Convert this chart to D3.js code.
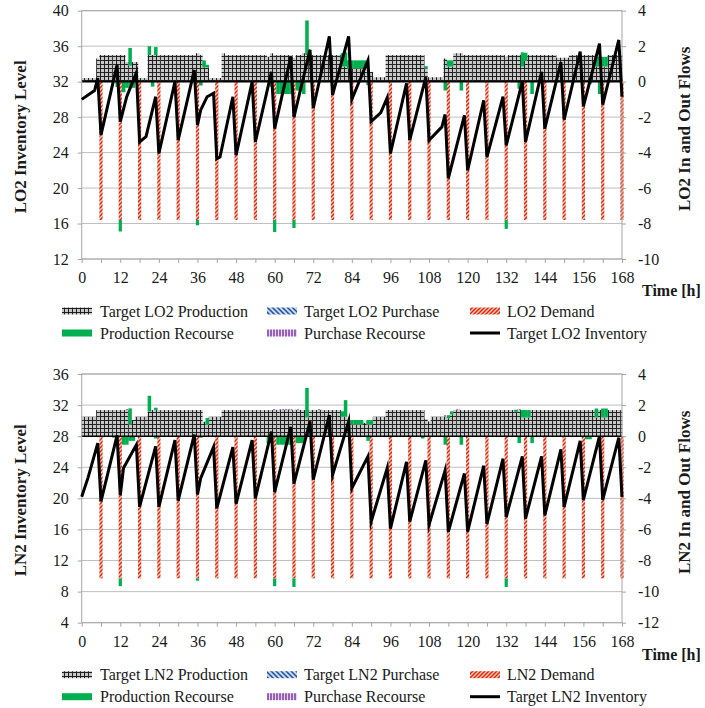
<!DOCTYPE html>
<html lang="en">
<head>
<meta charset="utf-8">
<title>LO2 and LN2 inventory and flows</title>
<script src="https://cdn.jsdelivr.net/npm/d3@7"></script>
<style>
  body { margin: 0; background: #fff; }
  svg text { font-family: "Liberation Serif", "DejaVu Serif", serif; fill: #1a1a1a; }
</style>
</head>
<body>
<script>
// ---- data ----
var demandHours = [6,12,18,24,30,36,42,48,54,60,66,72,78,84,90,96,102,108,114,120,126,132,138,144,150,156,162,168];
var xTickHours = [0,6,12,18,24,30,36,42,48,54,60,66,72,78,84,90,96,102,108,114,120,126,132,138,144,150,156,162,168];
var xLabels = [0,12,24,36,48,60,72,84,96,108,120,132,144,156,168];

var lo2LeftTicks = [12,16,20,24,28,32,36,40];
var lo2RightTicks = [-10,-8,-6,-4,-2,0,2,4];
var ln2LeftTicks = [4,8,12,16,20,24,28,32,36];
var ln2RightTicks = [-12,-10,-8,-6,-4,-2,0,2,4];

// hourly target production, index = hour 0..168
var lo2Production = [
  0.2,0.2,0.2,0.2,0.2,1.3,1.5,1.5,1.5,1.5,
  1.5,1.5,1.5,1.5,1.1,0.9,1.1,1.1,0.2,0.2,
  0.2,1.5,1.5,1.5,1.5,1.5,1.5,1.5,1.5,1.5,
  1.5,1.5,1.5,1.5,1.5,1.5,1.6,1.5,0.8,0.8,
  0.2,0.2,0.2,0.2,1.6,1.5,1.5,1.5,1.5,1.5,
  1.5,1.5,1.5,1.5,1.5,1.5,1.5,1.5,1.4,1.6,
  1.5,1.5,1.5,1.5,1.5,1.5,1.35,1.5,1.5,1.6,
  1.5,1.5,1.5,1.5,1.5,1.5,1.5,1.5,1.5,1.5,
  1.5,0.85,0.85,0.75,0.75,0.75,0.75,0.75,0.75,0.55,
  0.55,0.25,0.25,0.25,0.25,1.5,1.5,1.5,1.5,1.5,
  1.5,1.5,1.5,1.5,1.5,1.5,1.5,0.75,0.25,0.25,
  0.25,0.25,0.25,1.3,0.85,0.85,1.6,1.6,1.6,1.5,
  1.5,1.5,1.5,1.5,1.5,1.5,1.5,1.5,1.5,1.5,
  1.5,1.5,1.4,1.5,1.5,1.5,1.5,0.85,1.2,1.5,
  1.5,1.5,1.5,1.5,1.5,1.5,1.5,1.5,1.35,1.35,
  1.35,1.35,1.5,1.5,1.5,1.5,1.5,1.5,1.5,1.5,
  0.85,0.85,0.85,0.85,1.5,1.5,1.5,1.5,1.5
];
var lo2RecourseUp = [[15,1.0],[21,0.5],[23,0.45],[38,0.4],[39,0.15],[70,1.95],[81,0.75],[82,0.8],
  [83,0.45],[84,0.45],[85,0.45],[86,0.45],[87,0.45],[88,0.45],[107,0.12],[114,0.35],[115,0.35],
  [137,0.8],[138,0.43],[160,0.55],[161,0.55],[162,0.55],[163,0.55]];
var lo2RecourseDown = [[11,-0.3],[12,-0.65],[13,-0.6],[14,-0.35],[15,-0.35],[16,-0.35],[22,-0.28],
  [36,-0.3],[37,-0.22],[59,-0.3],[60,-0.68],[61,-0.7],[62,-0.7],[63,-0.7],[64,-0.7],[65,-0.7],
  [66,-0.45],[67,-0.5],[68,-0.5],[69,-0.7],[89,-0.2],[113,-0.5],[118,-0.5],[132,-0.5],[136,-0.4],
  [140,-0.7],[158,-0.15],[161,-0.7]];
var lo2Demand = [-7.8,-7.8,-7.8,-7.8,-7.8,-7.8,-7.8,-7.8,-7.8,-7.8,-7.8,-7.8,-7.8,-7.8,
  -7.8,-7.8,-7.8,-7.8,-7.8,-7.8,-7.8,-7.8,-7.8,-7.8,-7.8,-7.8,-7.8,-7.8];
var lo2Inventory = [[0,30.0],[4,31.0],[5,32.4],[6,26.0],[11,33.9],[12,27.5],[14,30.3],[17,33.0],
  [18,25.2],[20,25.8],[23,30.3],[24,23.9],[29,32.0],[30,25.4],[35,33.3],[36,27.1],[37,28.8],
  [39,30.3],[41,30.7],[42,23.3],[43,23.5],[47,30.3],[48,23.7],[53,32.0],[54,25.2],[59,33.1],
  [60,26.7],[65,34.8],[66,28.0],[71,35.6],[72,29.0],[77,37.1],[78,30.5],[83,37.1],[84,30.0],
  [89,34.4],[90,27.5],[93,28.5],[95,30.2],[96,23.9],[101,31.8],[102,25.4],[107,32.5],[108,25.4],
  [112,26.9],[113,28.3],[114,21.1],[119,28.2],[120,22.0],[125,29.9],[126,23.5],[131,30.3],
  [132,24.8],[137,32.0],[138,25.2],[143,33.1],[144,26.7],[149,34.2],[150,27.7],[155,35.4],
  [156,29.2],[161,36.3],[162,29.4],[167,36.7],[168,30.3]];

var ln2Production = [
  1.25,1.25,1.25,1.25,1.25,1.68,1.68,1.68,1.68,1.68,
  1.68,1.68,1.68,1.68,1.68,0.76,1.04,1.25,1.25,1.25,
  1.25,1.58,1.68,1.68,1.68,1.68,1.68,1.68,1.68,1.68,
  1.68,1.68,1.68,1.68,1.68,1.68,1.68,1.68,0.93,0.72,
  1.25,1.25,1.25,1.25,1.68,1.68,1.68,1.68,1.68,1.68,
  1.68,1.68,1.68,1.68,1.68,1.68,1.68,1.68,1.68,1.68,
  1.68,1.68,1.68,1.68,1.68,1.68,1.68,1.68,1.68,1.68,
  1.2,1.68,1.68,1.68,1.68,1.68,1.68,1.68,1.68,1.68,
  1.68,1.25,1.25,0.76,0.76,0.76,0.76,0.76,0.85,0.76,
  0.76,1.25,1.25,1.25,1.25,1.68,1.68,1.68,1.68,1.68,
  1.68,1.68,1.68,1.68,1.68,1.68,1.68,1.1,0.95,1.25,
  1.25,1.25,1.25,1.25,1.15,1.4,1.68,1.68,1.68,1.68,
  1.68,1.68,1.68,1.68,1.68,1.68,1.68,1.68,1.68,1.68,
  1.68,1.68,1.68,1.68,1.68,1.55,1.68,1.2,1.2,1.2,
  1.68,1.68,1.68,1.68,1.68,1.68,1.68,1.68,1.68,1.68,
  1.68,1.68,1.68,1.68,1.68,1.68,1.68,1.68,1.68,1.68,
  1.2,1.68,1.2,1.2,1.68,1.68,1.68,1.68,1.68
];
var ln2RecourseUp = [[15,1.03],[21,1.02],[23,0.15],[39,0.45],[70,1.9],[81,0.35],[82,1.07],[83,0.28],
  [84,0.28],[85,0.28],[86,0.28],[87,0.28],[89,0.28],[90,0.28],[114,0.2],[115,0.2],[135,0.15],
  [137,0.48],[138,0.48],[139,0.48],[160,0.58],[162,0.58],[163,0.58]];
var ln2RecourseDown = [[10,-0.1],[11,-0.15],[12,-0.5],[13,-0.55],[14,-0.55],[15,-0.3],[16,-0.3],
  [23,-0.15],[36,-0.15],[37,-0.1],[58,-0.45],[59,-0.45],[60,-0.5],[61,-0.55],[62,-0.55],[63,-0.55],
  [64,-0.55],[65,-0.55],[66,-0.55],[67,-0.45],[68,-0.45],[69,-0.45],[89,-0.3],[106,-0.15],
  [113,-0.55],[118,-0.55],[132,-0.55],[136,-0.45],[140,-0.45],[157,-0.2],[158,-0.2]];
var ln2PurchaseRecourse = [[14,0.06],[60,0.06],[62,0.06],[63,0.06],[64,0.06],[65,0.06],[67,0.06],
  [74,0.06],[113,0.1],[117,0.06],[136,0.06]];
var ln2Demand = [-9.15,-9.15,-9.15,-9.15,-9.15,-9.15,-9.15,-9.15,-9.15,-9.15,-9.15,-9.15,-9.15,-9.15,
  -9.15,-9.15,-9.15,-9.15,-9.15,-9.15,-9.15,-9.15,-9.15,-9.15,-9.15,-9.15,-9.15,-9.15];
var ln2Inventory = [[0,20.2],[2,22.7],[5,27.1],[6,19.6],[11,28.1],[12,20.4],[13,23.9],[17,26.9],
  [18,18.9],[23,26.7],[24,18.9],[29,27.5],[30,19.7],[35,28.2],[36,20.5],[37,22.6],[41,26.6],
  [42,18.7],[47,26.6],[48,19.3],[53,27.5],[54,20.0],[59,28.6],[60,20.8],[65,29.2],[66,21.9],
  [71,29.9],[72,22.4],[77,30.7],[78,23.0],[83,29.9],[84,21.3],[89,25.4],[90,17.0],[95,23.9],
  [96,16.1],[101,24.7],[102,17.0],[107,24.9],[108,16.6],[113,23.6],[114,15.7],[119,23.2],
  [120,15.7],[125,24.2],[126,16.7],[131,25.1],[132,17.6],[137,25.4],[138,17.4],[143,25.4],
  [144,17.8],[149,26.3],[150,18.9],[155,27.4],[156,19.8],[161,28.0],[162,19.8],[167,27.8],
  [168,20.2]];

// ---- drawing ----
var W = 705, H = 708;
var plotLeft = 81.7, plotRight = 622;
var FONT = '"Liberation Serif", "DejaVu Serif", serif';

var svg = d3.select("body").append("svg").attr("width", W).attr("height", H);
var defs = svg.append("defs");

function pattern(id, w, h, bg, d, stroke, sw) {
  var p = defs.append("pattern").attr("id", id)
    .attr("patternUnits", "userSpaceOnUse").attr("width", w).attr("height", h);
  p.append("rect").attr("width", w).attr("height", h).attr("fill", bg);
  p.append("path").attr("d", d).attr("stroke", stroke).attr("stroke-width", sw).attr("fill", "none");
}
// small grid for target production: grey cells, thin dark lines
pattern("gridPat", 4, 4, "#c6c6c6", "M0,0.5H4M0.5,0V4", "#202020", 1);
pattern("demandPat", 4, 4, "#fbd0aa", "M0,4L4,0M-1,1L1,-1M3,5L5,3", "#e2211a", 1.45);
pattern("purchPat", 5, 5, "#c9d9ef", "M0,0L5,5M-1,4L1,6M4,-1L6,1", "#1f4e9a", 1.5);
pattern("purRecPat", 3, 3, "#ead6f0", "M1,0V3", "#7030a0", 1.4);

var GREEN = "#00b050";

function lookup(pairs) {
  var m = new Map();
  pairs.forEach(function(p) { m.set(p[0], p[1]); });
  return m;
}

function drawPanel(p) {
  var g = svg.append("g");
  var x = d3.scaleLinear().domain([0, 168]).range([plotLeft, plotRight]);
  var yL = d3.scaleLinear().domain(p.leftDomain).range([p.bottom, p.top]);
  var yR = d3.scaleLinear().domain(p.rightDomain).range([p.bottom, p.top]);

  // gridlines
  g.append("g").selectAll("line").data(p.leftTicks).join("line")
    .attr("x1", plotLeft).attr("x2", plotRight)
    .attr("y1", function(d) { return yL(d); }).attr("y2", function(d) { return yL(d); })
    .attr("stroke", "#bfbfbf").attr("stroke-width", 1);

  function bx0(i) { return Math.max(x(i - 0.5), x(0)); }
  function bx1(i) { return Math.min(x(i + 0.5), x(168)); }
  var step = x(1) - x(0);

  var demandMap = new Map();
  demandHours.forEach(function(h, k) { demandMap.set(h, p.demand[k]); });
  var upMap = lookup(p.recUp);

  // target production
  g.append("g").selectAll("rect").data(p.production).join("rect")
    .attr("x", function(d, i) { return bx0(i); })
    .attr("width", function(d, i) { return bx1(i) - bx0(i) + 0.3; })
    .attr("y", function(d) { return yR(d); })
    .attr("height", function(d) { return yR(0) - yR(d); })
    .attr("fill", "url(#gridPat)");

  // demand
  g.append("g").selectAll("rect").data(demandHours).join("rect")
    .attr("x", function(h) { return x(h) - 0.5 * step; })
    .attr("width", step)
    .attr("y", yR(0))
    .attr("height", function(h) { return yR(demandMap.get(h)) - yR(0); })
    .attr("fill", "url(#demandPat)");

  // production recourse above production
  g.append("g").selectAll("rect").data(p.recUp).join("rect")
    .attr("x", function(d) { return bx0(d[0]); })
    .attr("width", function(d) { return bx1(d[0]) - bx0(d[0]) + 0.3; })
    .attr("y", function(d) { return yR(p.production[d[0]] + d[1]); })
    .attr("height", function(d) { return yR(p.production[d[0]]) - yR(p.production[d[0]] + d[1]); })
    .attr("fill", GREEN);

  // production recourse below zero (stacked under demand where there is one)
  g.append("g").selectAll("rect").data(p.recDown).join("rect")
    .attr("x", function(d) { return demandMap.has(d[0]) ? x(d[0]) - 0.5 * step : bx0(d[0]); })
    .attr("width", function(d) { return demandMap.has(d[0]) ? step : bx1(d[0]) - bx0(d[0]) + 0.3; })
    .attr("y", function(d) { return yR(demandMap.get(d[0]) || 0); })
    .attr("height", function(d) {
      var base = demandMap.get(d[0]) || 0;
      return yR(base + d[1]) - yR(base);
    })
    .attr("fill", GREEN);

  // purchase recourse
  g.append("g").selectAll("rect").data(p.purRec).join("rect")
    .attr("x", function(d) { return bx0(d[0]); })
    .attr("width", function(d) { return bx1(d[0]) - bx0(d[0]); })
    .attr("y", function(d) { return yR(p.production[d[0]] + (upMap.get(d[0]) || 0) + d[1]); })
    .attr("height", function(d) { return yR(0) - yR(d[1]); })
    .attr("fill", "url(#purRecPat)");

  // zero line of the flows axis
  g.append("line").attr("x1", plotLeft).attr("x2", plotRight)
    .attr("y1", yR(0)).attr("y2", yR(0)).attr("stroke", "#000").attr("stroke-width", 1.6);

  // plot frame
  g.append("rect").attr("x", plotLeft).attr("y", p.top)
    .attr("width", plotRight - plotLeft).attr("height", p.bottom - p.top)
    .attr("fill", "none").attr("stroke", "#a6a6a6").attr("stroke-width", 1);

  // inventory line
  var line = d3.line().x(function(d) { return x(d[0]); }).y(function(d) { return yL(d[1]); });
  g.append("path").datum(p.inventory).attr("d", line)
    .attr("fill", "none").attr("stroke", "#000").attr("stroke-width", 3)
    .attr("stroke-linejoin", "miter").attr("stroke-miterlimit", 6);

  // axes
  function style(ax) {
    ax.attr("font-family", FONT).attr("font-size", 16);
    ax.select(".domain").remove();
    ax.selectAll(".tick line").attr("stroke", "#a6a6a6");
    ax.selectAll(".tick text").attr("fill", "#1a1a1a");
  }
  g.append("g").attr("transform", "translate(" + plotLeft + ",0)")
    .call(d3.axisLeft(yL).tickValues(p.leftTicks).tickSize(4).tickPadding(9)
      .tickFormat(function(d) { return String(d); }))
    .call(style);
  g.append("g").attr("transform", "translate(" + plotRight + ",0)")
    .call(d3.axisRight(yR).tickValues(p.rightTicks).tickSize(4).tickPadding(12)
      .tickFormat(function(d) { return String(d); }))
    .call(style);
  g.append("g").attr("transform", "translate(0," + p.bottom + ")")
    .call(d3.axisBottom(x).tickValues(xTickHours).tickSize(4).tickPadding(9)
      .tickFormat(function(d) { return xLabels.indexOf(d) >= 0 ? String(d) : ""; }))
    .call(style);

  // titles
  var mid = (p.top + p.bottom) / 2;
  g.append("text").attr("transform", "translate(20," + (mid + 2) + ") rotate(-90)")
    .attr("text-anchor", "middle").attr("dy", "0.35em")
    .attr("font-weight", "bold").attr("font-size", 17).text(p.leftTitle);
  g.append("text").attr("transform", "translate(684," + (mid - 6) + ") rotate(-90)")
    .attr("text-anchor", "middle").attr("dy", "0.35em")
    .attr("font-weight", "bold").attr("font-size", 17).text(p.rightTitle);
  g.append("text").attr("x", 642).attr("y", p.bottom + 37)
    .attr("font-weight", "bold").attr("font-size", 16).text("Time [h]");

  // legend
  var swX = [62, 267, 470], txX = [100, 304, 507];
  var rows = [p.bottom + 52, p.bottom + 74];
  var items = [
    { label: p.legend[0], fill: "url(#gridPat)" },
    { label: p.legend[1], fill: "url(#purchPat)" },
    { label: p.legend[2], fill: "url(#demandPat)" },
    { label: "Production Recourse", fill: GREEN },
    { label: "Purchase Recourse", fill: "url(#purRecPat)" },
    { label: p.legend[3], line: true }
  ];
  var lg = g.append("g").attr("font-size", 16);
  items.forEach(function(it, k) {
    var cx = k % 3, ry = rows[Math.floor(k / 3)];
    if (it.line) {
      lg.append("line").attr("x1", swX[cx]).attr("x2", swX[cx] + 30)
        .attr("y1", ry).attr("y2", ry).attr("stroke", "#000").attr("stroke-width", 3);
    } else {
      lg.append("rect").attr("x", swX[cx]).attr("y", ry - 3.5)
        .attr("width", 30).attr("height", 7).attr("fill", it.fill);
    }
    lg.append("text").attr("x", txX[cx]).attr("y", ry).attr("dy", "0.35em").text(it.label);
  });
}

drawPanel({
  top: 10.7, bottom: 259,
  leftDomain: [12, 40], rightDomain: [-10, 4],
  leftTicks: lo2LeftTicks, rightTicks: lo2RightTicks,
  production: lo2Production, recUp: lo2RecourseUp, recDown: lo2RecourseDown,
  purRec: [], demand: lo2Demand, inventory: lo2Inventory,
  leftTitle: "LO2 Inventory Level", rightTitle: "LO2 In and Out Flows",
  legend: ["Target LO2 Production", "Target LO2 Purchase", "LO2 Demand", "Target LO2 Inventory"]
});

drawPanel({
  top: 374, bottom: 622.7,
  leftDomain: [4, 36], rightDomain: [-12, 4],
  leftTicks: ln2LeftTicks, rightTicks: ln2RightTicks,
  production: ln2Production, recUp: ln2RecourseUp, recDown: ln2RecourseDown,
  purRec: ln2PurchaseRecourse, demand: ln2Demand, inventory: ln2Inventory,
  leftTitle: "LN2 Inventory Level", rightTitle: "LN2 In and Out Flows",
  legend: ["Target LN2 Production", "Target LN2 Purchase", "LN2 Demand", "Target LN2 Inventory"]
});
</script>
</body>
</html>
